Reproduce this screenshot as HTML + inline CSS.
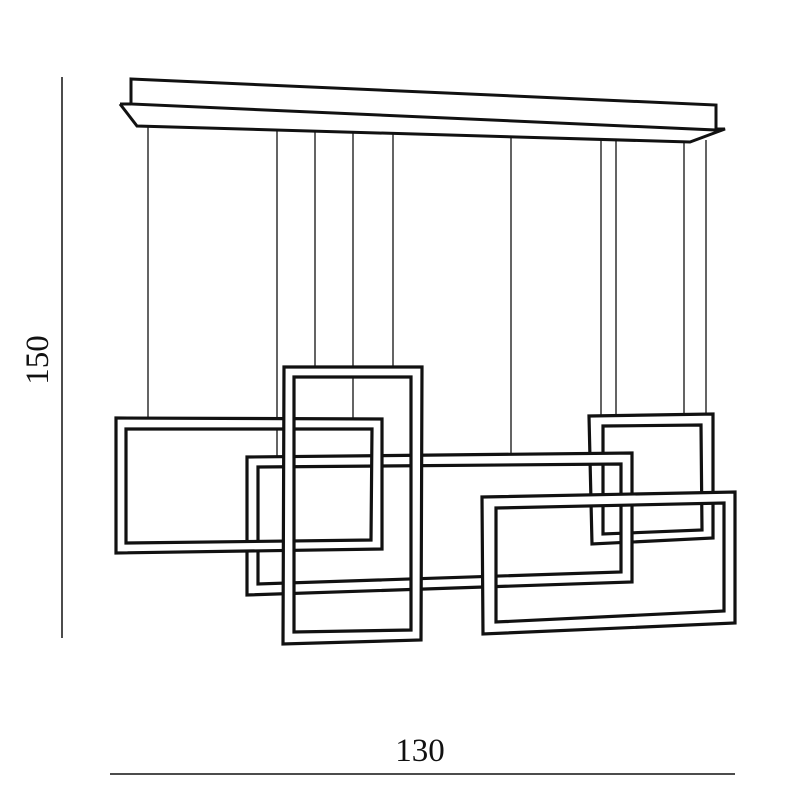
<!DOCTYPE html>
<html><head><style>html,body{margin:0;padding:0;background:#fff}</style></head>
<body>
<svg width="800" height="800" viewBox="0 0 800 800" xmlns="http://www.w3.org/2000/svg" font-family="Liberation Serif, serif">
<g stroke="#111" fill="none">
<!-- dimension lines -->
<line x1="62" y1="77" x2="62" y2="638" stroke-width="1.5"/>
<line x1="110" y1="774" x2="735" y2="774" stroke-width="1.5"/>
<!-- canopy -->
<polygon points="131,79 716,105 716,130 131,104" fill="#fff" stroke-width="3"/>
<polyline points="120,104 137,126 690,142 725,129 716,129" stroke-width="3"/>
<line x1="120" y1="104" x2="131" y2="104" stroke-width="3"/>
<!-- wires -->
<g stroke-width="1.3">
<line x1="148" y1="126" x2="148" y2="418"/>
<line x1="277" y1="130" x2="277" y2="457"/>
<line x1="315" y1="131" x2="315" y2="367"/>
<line x1="353" y1="132" x2="353" y2="418"/>
<line x1="393" y1="133" x2="393" y2="367"/>
<line x1="511" y1="136" x2="511" y2="455"/>
<line x1="601" y1="139" x2="601" y2="416"/>
<line x1="616" y1="139" x2="616" y2="416"/>
<line x1="684" y1="141" x2="684" y2="414"/>
<line x1="706" y1="140" x2="706" y2="492"/>
</g>
<g stroke-width="3.2" fill="#fff" fill-rule="evenodd" stroke-linejoin="miter">
<!-- D -->
<path d="M589,416 L713,414 L713,538 L592,544 Z M603,426 L701,425 L702,530 L603,534 Z"/>
<!-- B -->
<path d="M247,457 L632,453 L632,582 L247,595 Z M258,467 L621,464 L621,572 L258,584 Z"/>
<!-- A -->
<path d="M116,418 L382,419 L382,549 L116,553 Z M126,429 L372,429 L371,540 L126,543 Z"/>
<!-- C -->
<path d="M284,367 L422,367 L421,640 L283,644 Z M294,377 L411,377 L411,630 L294,632 Z"/>
<!-- E -->
<path d="M482,497 L735,492 L735,623 L483,634 Z M496,508 L724,503 L724,611 L496,622 Z"/>
</g>
</g>
<text x="38" y="360" font-size="33" text-anchor="middle" dominant-baseline="central" transform="rotate(-90 38 360)" fill="#111">150</text>
<text x="420" y="761" font-size="33" text-anchor="middle" fill="#111">130</text>
</svg>
</body></html>
